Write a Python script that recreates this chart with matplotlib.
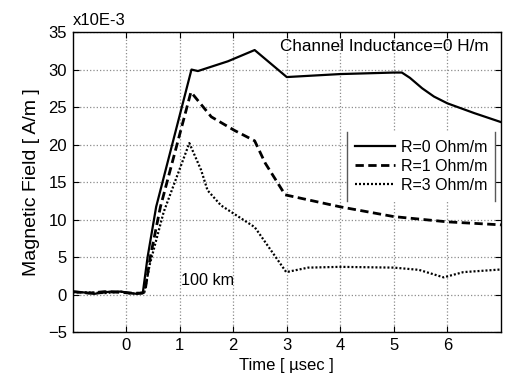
import matplotlib
matplotlib.use("Agg")
import matplotlib.pyplot as plt
from matplotlib.lines import Line2D

plt.rcParams['font.family'] = ['Liberation Sans', 'DejaVu Sans']

# R = 0 Ohm/m (solid)
t_r0 = [-1.0, -0.8, -0.6, -0.5, -0.3, -0.1, 0.0, 0.1, 0.2, 0.31, 0.4, 0.56, 1.22, 1.34,
        1.9, 2.4, 3.0, 4.0, 5.0, 5.15, 5.3, 5.53, 5.75, 6.0, 6.5, 7.0]
h_r0 = [0.4, 0.3, 0.1, 0.2, 0.4, 0.4, 0.3, 0.2, 0.1, 0.2, 5.0, 11.7, 30.0, 29.8,
        31.1, 32.6, 29.0, 29.4, 29.6, 29.6, 28.9, 27.5, 26.4, 25.5, 24.2, 23.0]

# R = 1 Ohm/m (dashed)
t_r1 = [-1.0, -0.7, -0.4, -0.1, 0.1, 0.3, 0.35, 0.45, 0.64, 1.21, 1.59, 2.02, 2.4,
        2.6, 2.97, 4.0, 5.0, 6.0, 7.0]
h_r1 = [0.4, 0.2, 0.4, 0.3, 0.2, 0.2, 0.4, 5.0, 11.7, 27.0, 23.7, 21.9, 20.5,
        17.5, 13.3, 11.7, 10.4, 9.7, 9.3]

# R = 3 Ohm/m (dotted)
t_r3 = [-1.0, -0.7, -0.4, -0.1, 0.1, 0.34, 0.44, 0.7, 1.18, 1.4, 1.52, 1.77,
        2.4, 2.46, 2.99, 3.4, 4.0, 5.0, 5.47, 5.93, 6.3, 7.0]
h_r3 = [0.3, 0.3, 0.2, 0.4, 0.1, 0.3, 4.0, 11.0, 20.2, 16.6, 13.9, 11.9,
        9.0, 8.4, 3.0, 3.6, 3.7, 3.6, 3.3, 2.3, 3.0, 3.35]

labels = ["R=0 Ohm/m", "R=1 Ohm/m", "R=3 Ohm/m"]
x_ticks = [0, 1, 2, 3, 4, 5, 6]
y_ticks = [-5, 0, 5, 10, 15, 20, 25, 30, 35]

fig = plt.figure(figsize=(5.08, 3.77), dpi=100)
ax = fig.add_axes([0.143, 0.119, 0.843, 0.796])

ax.plot(t_r0, h_r0, color='black', lw=1.6, ls='-', label=labels[0])
ax.plot(t_r1, h_r1, color='black', lw=2.0, ls=(0, (3, 1.6)), label=labels[1])
ax.plot(t_r3, h_r3, color='black', lw=1.6, ls=(0, (0.9, 0.9)), label=labels[2])

ax.set_xlim(-1, 7)
ax.set_ylim(-5, 35)
ax.set_xticks(x_ticks)
ax.set_yticks(y_ticks)
ax.grid(True, ls=':', color='0.55', lw=0.9)
ax.tick_params(direction='in', top=True, right=True, length=4, labelsize=12, pad=4)
for s in ax.spines.values():
    s.set_linewidth(1.0)

ax.set_xlabel("Time [ \u00b5sec ]", fontsize=12, labelpad=4)
ax.set_ylabel("Magnetic Field [ A/m ]", fontsize=14, labelpad=6)

ax.text(0.0, 1.015, "x10E-3", transform=ax.transAxes, fontsize=12, ha='left', va='bottom')
ax.text(2.88, 33.1, "Channel Inductance=0 H/m", fontsize=12.3, ha='left', va='center')
ax.text(1.03, 1.9, "100 km", fontsize=11.6, ha='left', va='center')

leg = ax.legend(loc='upper right', bbox_to_anchor=(0.987, 0.668), borderaxespad=0,
                fontsize=11.5, handlelength=2.5, handletextpad=0.4, labelspacing=0.25,
                frameon=True, fancybox=False, borderpad=0.5)
leg.get_frame().set_edgecolor('none')
leg.get_frame().set_facecolor('white')
leg.get_frame().set_alpha(1.0)

# Only the side borders of the legend box are visible in the reference
fig.canvas.draw()
bb = leg.get_frame().get_window_extent().transformed(fig.transFigure.inverted())
for xx in (bb.x0, bb.x1):
    fig.add_artist(Line2D([xx, xx], [bb.y0, bb.y1], transform=fig.transFigure,
                          color='0.35', lw=1.0, zorder=10))

fig.savefig("out.png", dpi=100)
